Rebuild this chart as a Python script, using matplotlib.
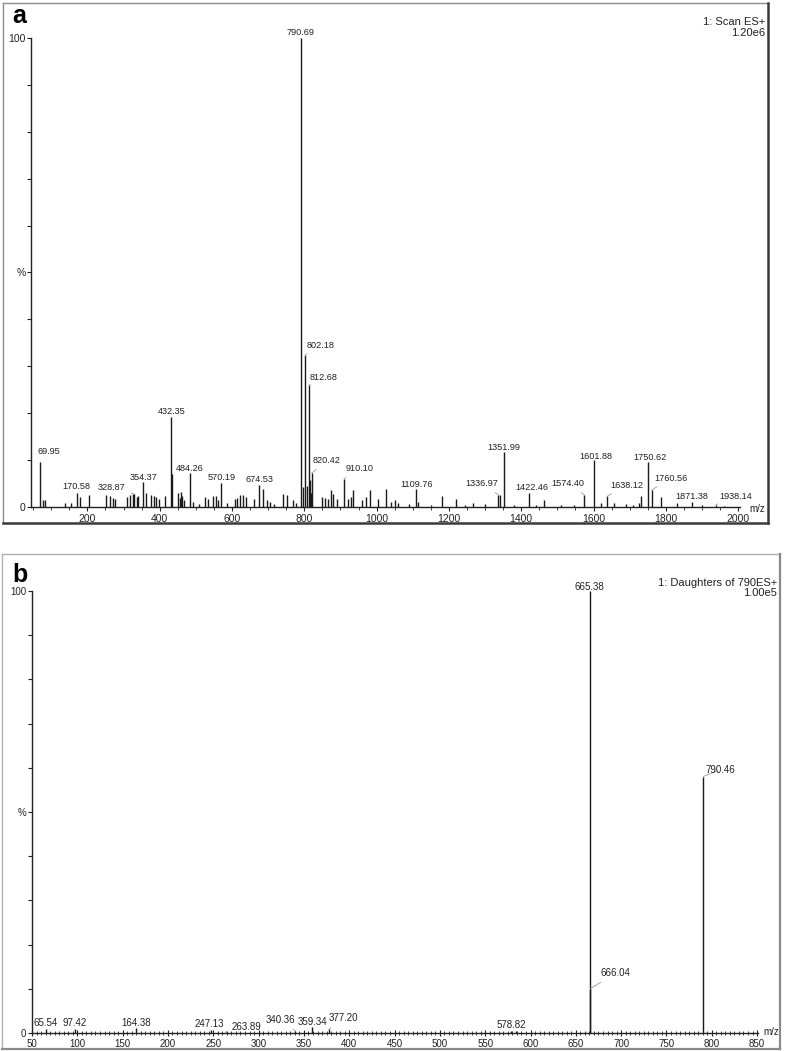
import matplotlib
matplotlib.use('Agg')
import matplotlib.pyplot as plt
from matplotlib.lines import Line2D
from matplotlib.ticker import MultipleLocator

W, H = 787, 1051
plt.rcParams['font.family'] = ['Liberation Sans', 'DejaVu Sans']

# ---- panel a: full scan, 1: Scan ES+ ----
a_mz = [69.95, 76, 82, 138, 154, 170.58, 179, 205, 251, 262, 271, 275, 310, 318, 325,
        328.87, 336, 341, 354.37, 363, 377, 384, 391, 398, 414, 432.35, 434, 450, 455,
        458, 462, 466, 484.26, 491, 508, 525, 533, 548, 555, 561, 570.19, 585, 608, 614,
        622, 629, 638, 661, 674.53, 685, 696, 705, 715, 740, 751, 770, 777, 790.69, 797,
        802.18, 806, 812.68, 815, 818, 820.42, 850, 858, 866, 874, 880, 890, 910.10, 920,
        928, 935, 960, 970, 983, 1005, 1027, 1040, 1050, 1060, 1090, 1109.76, 1114, 1150,
        1181, 1219, 1245, 1267, 1300, 1336.97, 1341, 1351.99, 1380, 1422.46, 1440, 1464,
        1510, 1545, 1574.40, 1601.88, 1621, 1638.12, 1656, 1690, 1710, 1725, 1730,
        1750.62, 1760.56, 1786, 1830, 1871.38, 1900, 1938.14, 1960]
a_int = [9.5, 1.5, 1.5, 0.9, 0.9, 3.0, 2.1, 2.5, 2.5, 2.3, 2.0, 1.8, 2.1, 2.5, 2.7,
         2.8, 2.1, 2.3, 5.3, 3.0, 2.5, 2.3, 2.1, 1.8, 2.3, 19.2, 7.1, 3.0, 2.0,
         3.2, 2.4, 1.5, 7.2, 1.1, 0.7, 2.1, 1.8, 2.3, 2.3, 1.5, 5.1, 0.9, 1.8, 2.0,
         2.5, 2.5, 2.1, 1.6, 4.7, 3.9, 1.4, 1.1, 0.7, 2.8, 2.5, 1.4, 0.9, 100, 4.3,
         32.4, 4.5, 26.0, 5.7, 3.0, 7.2, 2.1, 1.9, 1.8, 3.6, 2.8, 1.8, 6.0, 1.8,
         2.1, 3.6, 1.4, 2.1, 3.6, 1.8, 3.9, 1.0, 1.4, 0.8, 0.6, 3.8, 1.0, 0.5,
         2.3, 1.8, 0.5, 0.9, 0.6, 2.6, 2.6, 11.7, 0.5, 3.0, 0.5, 1.4,
         0.5, 0.5, 2.6, 10.0, 0.9, 2.3, 0.9, 0.6, 0.5, 0.9, 2.3,
         9.6, 3.6, 2.1, 0.9, 1.0, 0.4, 0.5, 0.3]
a_labelled = [69.95, 170.58, 328.87, 354.37, 432.35, 484.26, 570.19, 674.53, 790.69,
              802.18, 812.68, 820.42, 910.10, 1109.76, 1336.97, 1351.99, 1422.46,
              1574.40, 1601.88, 1638.12, 1750.62, 1760.56, 1871.38, 1938.14]

# ---- panel b: daughters of 790 ----
b_mz = [65.54, 97.42, 164.38, 247.13, 263.89, 340.36, 359.34, 377.20, 578.82, 584.5,
        665.38, 666.04, 790.46]
b_int = [0.8, 0.8, 1.1, 0.7, 0.3, 0.5, 1.4, 0.8, 0.5, 0.5, 100, 10, 58]
b_labelled = [65.54, 97.42, 164.38, 247.13, 263.89, 340.36, 359.34, 377.20, 578.82,
              665.38, 666.04, 790.46]

# label placement (pixels from peak top)
a_offsets = [(8, 11), (0, 6), (-22, 6), (0, 5), (0, 5), (0, 5), (0, 6), (0, 5), (0, 5),
             (15, 10), (15, 8), (15, 13), (15, 10), (0, 5), (-17, 11), (0, 5), (2, 5),
             (-16, 11), (2, 4), (19, 11), (2, 4), (19, 12), (0, 6), (20, 8)]
b_offsets = [(0, 6), (0, 6), (0, 5), (-1, 6), (21, 5), (-15, 11), (0, 5), (15, 11),
             (0, 6), (0, 4), (25, 16), (17, 7)]


def box(left, top, right, bottom):
    return [left / W, 1 - bottom / H, (right - left) / W, (bottom - top) / H]


def frame(fig, left, top, right, bottom, light, dark, lw_dark):
    fx = lambda x: x / W
    fy = lambda y: 1 - y / H
    fig.add_artist(Line2D([fx(left), fx(left)], [fy(top), fy(bottom)], color=light, lw=1.0))
    fig.add_artist(Line2D([fx(left), fx(right)], [fy(top), fy(top)], color=light, lw=1.0))
    fig.add_artist(Line2D([fx(right), fx(right)], [fy(top), fy(bottom)], color=dark, lw=lw_dark))
    fig.add_artist(Line2D([fx(left), fx(right)], [fy(bottom), fy(bottom)], color=dark, lw=lw_dark))


def draw_panel(ax, mz, inten, labelled, offsets, xlim, major, minor, label_size, tick_size):
    ax.vlines(mz, 0, inten, color='#1a1a1a', lw=1.0)
    ax.set_xlim(*xlim)
    ax.set_ylim(0, 100)
    for s in ['top', 'right']:
        ax.spines[s].set_visible(False)
    for s in ['left', 'bottom']:
        ax.spines[s].set_color('#222222')
        ax.spines[s].set_linewidth(1.0)
    ax.set_yticks(range(0, 101, 10))
    ax.set_yticklabels(['0', '', '', '', '', '%', '', '', '', '', '100'])
    ax.xaxis.set_major_locator(MultipleLocator(major))
    ax.xaxis.set_minor_locator(MultipleLocator(minor))
    ax.tick_params(axis='y', direction='out', length=3, width=0.8, labelsize=tick_size,
                   pad=1, colors='#222222')
    ax.tick_params(axis='x', which='major', direction='out', length=3, width=0.8,
                   labelsize=tick_size, pad=2, colors='#222222')
    ax.tick_params(axis='x', which='minor', direction='out', length=2, width=0.6,
                   colors='#222222')
    for m, (dx, dy) in zip(labelled, offsets):
        h = inten[mz.index(m)]
        arrow = None
        if abs(dx) > 10:
            arrow = dict(arrowstyle='-', color='0.6', lw=0.6, shrinkA=2, shrinkB=0)
        ax.annotate(f'{m:.2f}', xy=(m, h), xytext=(dx, dy), textcoords='offset pixels',
                    ha='center', va='center', fontsize=label_size, color='#222222',
                    arrowprops=arrow, annotation_clip=False)


fig = plt.figure(figsize=(W / 100, H / 100), dpi=100)

# panel a
ax1 = fig.add_axes(box(31, 38, 740, 507))
draw_panel(ax1, a_mz, a_int, a_labelled, a_offsets, (44, 2005), 200, 50, 6.6, 7.5)
frame(fig, 3, 3, 768, 523, '#8c8c8c', '#3a3a3a', 1.8)
fig.text(12 / W, 1 - 23 / H, 'a', fontsize=18, fontweight='bold', ha='left', va='baseline')
fig.text(765 / W, 1 - 22 / H, '1: Scan ES+', fontsize=8, ha='right', va='center', color='#222222')
fig.text(765 / W, 1 - 33 / H, '1.20e6', fontsize=8, ha='right', va='center', color='#222222')
fig.text(757 / W, 1 - 509 / H, 'm/z', fontsize=7, ha='center', va='center', color='#222222')

# panel b
ax2 = fig.add_axes(box(32, 591, 758, 1033))
draw_panel(ax2, b_mz, b_int, b_labelled, b_offsets, (50, 851), 50, 5, 7, 7)
ax2.tick_params(axis='x', which='major', direction='inout', length=5)
ax2.tick_params(axis='x', which='minor', direction='inout', length=3)
frame(fig, 2, 554, 780, 1049, '#b0b0b0', '#8a8a8a', 1.6)
fig.text(12 / W, 1 - 582 / H, 'b', fontsize=18, fontweight='bold', ha='left', va='baseline')
fig.text(777 / W, 1 - 583 / H, '1: Daughters of 790ES+', fontsize=8, ha='right', va='center', color='#222222')
fig.text(777 / W, 1 - 593 / H, '1.00e5', fontsize=8, ha='right', va='center', color='#222222')
fig.text(771 / W, 1 - 1032 / H, 'm/z', fontsize=7, ha='center', va='center', color='#222222')

fig.savefig('out.png', dpi=100, facecolor='white')
